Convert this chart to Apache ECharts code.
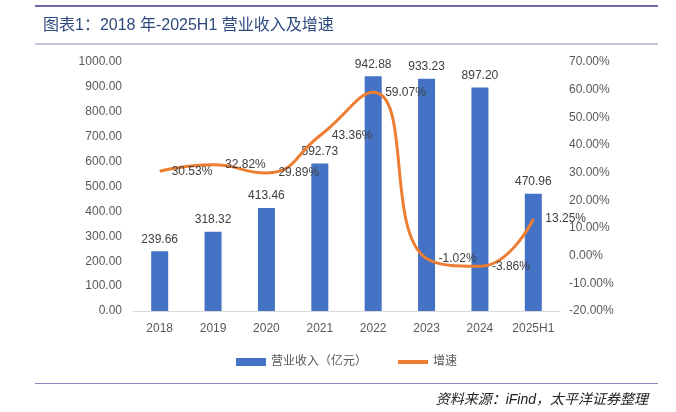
<!DOCTYPE html>
<html><head><meta charset="utf-8">
<script src="https://cdn.jsdelivr.net/npm/echarts@6/dist/echarts.min.js"></script>
<style>html,body{margin:0;padding:0;background:#fff;}#c{width:676px;height:412px;}</style>
</head><body><div id="c"></div>
<script>
const categories = ['2018','2019','2020','2021','2022','2023','2024','2025H1'];
const revenue = [239.66, 318.32, 413.46, 592.73, 942.88, 933.23, 897.20, 470.96];
const growth = [30.53, 32.82, 29.89, 43.36, 59.07, -1.02, -3.86, 13.25];
const seriesNames = ['营业收入（亿元）', '增速'];
const titleText = '图表1：2018 年-2025H1 营业收入及增速';
const sourceText = '资料来源：iFind，太平洋证券整理';

const FONT = '"Liberation Sans","Noto Sans CJK SC",sans-serif';
const chart = echarts.init(document.getElementById('c'));
chart.setOption({
  animation: false,
  textStyle: {fontFamily: FONT},
  grid: {left: 133, right: 116, top: 62, bottom: 101},
  legend: {
    top: 351, left: 231, itemGap: 31,
    textStyle: {color: '#595959', fontSize: 12, fontFamily: FONT},
    data: [
      {name: seriesNames[0], icon: 'rect', itemStyle: {color: '#4472C4'}},
      {name: seriesNames[1], icon: 'path://M0,0 L30,0 L30,4 L0,4 Z', itemStyle: {color: '#ED7D31'}}
    ],
    itemWidth: 30, itemHeight: 8
  },
  xAxis: {
    type: 'category', data: categories,
    axisLine: {lineStyle: {color: '#d9d9d9'}},
    axisTick: {show: false},
    axisLabel: {color: '#595959', fontSize: 12, margin: 12, interval: 0}
  },
  yAxis: [
    {type: 'value', min: 0, max: 1000, interval: 100, splitLine: {show: false},
     axisLabel: {color: '#595959', fontSize: 12, margin: 11, formatter: v => v.toFixed(2)}},
    {type: 'value', min: -20, max: 70, interval: 10, splitLine: {show: false},
     axisLabel: {color: '#595959', fontSize: 12, margin: 9, formatter: v => v.toFixed(2) + '%'}}
  ],
  series: [
    {name: seriesNames[0], type: 'bar', data: revenue, barWidth: 17,
     itemStyle: {color: '#4472C4'},
     label: {show: true, position: 'top', distance: 6, color: '#404040', fontSize: 12,
             formatter: p => p.value.toFixed(2)}},
    {name: seriesNames[1], type: 'line', yAxisIndex: 1, data: growth, smooth: 0.5,
     symbol: 'circle', symbolSize: 0, showSymbol: true,
     lineStyle: {color: '#ED7D31', width: 3}, itemStyle: {color: '#ED7D31'},
     label: {show: true, position: 'right', distance: 12, color: '#404040', fontSize: 12,
             formatter: p => p.value.toFixed(2) + '%'}}
  ],
  graphic: [
    {type: 'rect', shape: {x: 35, y: 5, width: 623, height: 2}, style: {fill: '#6b6ba6'}},
    {type: 'text', left: 43, top: 18, style: {text: titleText, fill: '#2e4a7d', fontSize: 16, fontFamily: FONT}},
    {type: 'rect', shape: {x: 35, y: 43.5, width: 623, height: 1}, style: {fill: '#8888bb'}},
    {type: 'rect', shape: {x: 35, y: 383, width: 623, height: 1}, style: {fill: '#8888bb'}},
    {type: 'text', right: 28, top: 393, style: {text: sourceText, fill: '#222', fontSize: 14, fontStyle: 'italic', fontFamily: FONT}}
  ]
});
</script></body></html>
